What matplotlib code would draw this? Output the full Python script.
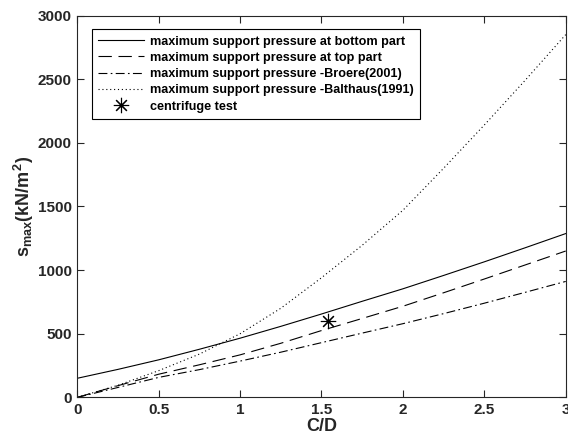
import numpy as np
import matplotlib
matplotlib.use('Agg')
import matplotlib.pyplot as plt

plt.rcParams['font.family'] = ['Liberation Sans', 'DejaVu Sans']
plt.rcParams['font.weight'] = 'bold'
plt.rcParams['mathtext.fontset'] = 'custom'
plt.rcParams['mathtext.rm'] = 'Liberation Sans:bold'
plt.rcParams['mathtext.it'] = 'Liberation Sans:bold'
plt.rcParams['mathtext.bf'] = 'Liberation Sans:bold'

# data
cd = [0, 0.25, 0.5, 0.75, 1.0, 1.25, 1.5, 1.75, 2.0, 2.25, 2.5, 2.75, 3.0]
p_bottom = [150, 220, 295, 378, 465, 558, 655, 755, 853, 958, 1065, 1175, 1287]
p_top = [0, 92, 182, 256, 334, 425, 525, 620, 716, 822, 930, 1040, 1150]
p_broere = [0, 78, 157, 218, 285, 355, 430, 505, 579, 658, 740, 825, 911]
p_balthaus = [0, 95, 210, 340, 500, 700, 940, 1195, 1470, 1800, 2140, 2490, 2850]
test_cd = [1.54]
test_p = [600]

labels = ['maximum support pressure at bottom part',
          'maximum support pressure at top part',
          'maximum support pressure -Broere(2001)',
          'maximum support pressure -Balthaus(1991)',
          'centrifuge test']

fig = plt.figure(figsize=(5.68, 4.44), dpi=100)
ax = fig.add_axes([0.136, 0.105, 0.86, 0.86])

k = '#000000'
ax.plot(cd, p_bottom, color=k, lw=0.8, ls='-', label=labels[0])
ax.plot(cd, p_top, color=k, lw=0.8, ls=(0, (12, 6)), label=labels[1])
ax.plot(cd, p_broere, color=k, lw=0.8, ls=(0, (8, 3, 1.5, 3)), label=labels[2])
ax.plot(cd, p_balthaus, color=k, lw=0.8, ls=(0, (1, 2.5)), label=labels[3])
ax.plot(test_cd, test_p, ls='none', marker=(8, 2, 0), ms=11, mec=k, mew=0.8,
        color=k, label=labels[4])

ax.set_xlim(0, 3)
ax.set_ylim(0, 3000)
ax.set_xticks([0, 0.5, 1, 1.5, 2, 2.5, 3])
ax.set_xticklabels(['0', '0.5', '1', '1.5', '2', '2.5', '3'])
ax.set_yticks([0, 500, 1000, 1500, 2000, 2500, 3000])

ax.tick_params(direction='in', top=True, right=True, length=5, width=0.8,
               colors='#262626', labelsize=11, pad=4)
for s in ax.spines.values():
    s.set_color('#262626')
    s.set_linewidth(0.8)

ax.set_xlabel('C/D', fontsize=13, fontweight='bold', color='#262626', labelpad=1)
ax.set_ylabel(r'$s_{max}(kN/m^2)$', fontsize=13, color='#262626', labelpad=1)

leg = ax.legend(loc='upper left', bbox_to_anchor=(0.03, 0.964), fontsize=9.1,
                frameon=True, fancybox=False, edgecolor='k', framealpha=1,
                handlelength=3.6, handletextpad=0.5, borderpad=0.5,
                labelspacing=0.34, borderaxespad=0)
leg.get_frame().set_linewidth(0.8)
for t in leg.get_texts():
    t.set_fontweight('bold')

fig.savefig('out.png', dpi=100)
